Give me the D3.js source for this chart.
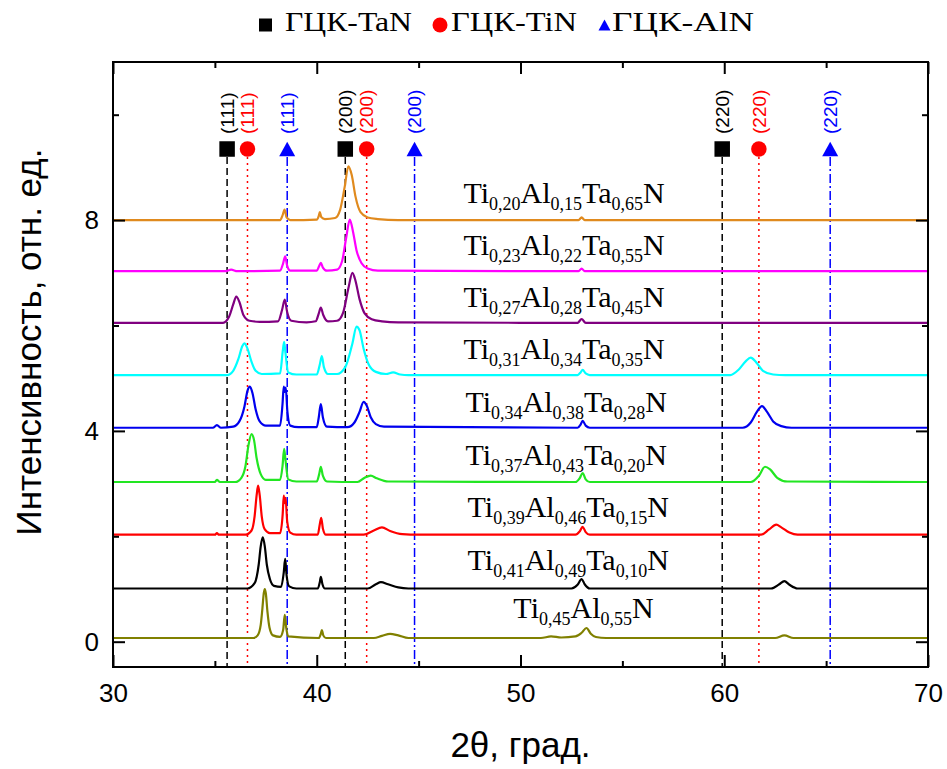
<!DOCTYPE html>
<html>
<head>
<meta charset="utf-8">
<script src="https://cdn.jsdelivr.net/npm/d3@7"></script>
<style>
  body { margin: 0; background: #fff; }
  svg { display: block; }
  .sans { font-family: "Liberation Sans", Arial, sans-serif; }
  .serif { font-family: "Liberation Serif", "Times New Roman", serif; }
</style>
</head>
<body>
<div id="chart"></div>
<script>
// --- data ---
// each scan: [2theta, intensity above its own baseline]
const scanTi45 = [[30,0],[36.9,0],[37.1,0.05],[37.25,0.25],[37.33,0.55],[37.4,0.85],[37.45,0.93],[37.5,0.85],[37.58,0.5],[37.68,0.2],[37.85,0.05],[38.2,0.02],[38.35,0.15],[38.43,0.44],[38.5,0.2],[38.6,0.03],[40.1,0],[40.2,0.08],[40.25,0.15],[40.32,0.05],[40.45,0],[42.8,0],[43.2,0.04],[43.6,0.08],[44.0,0.05],[44.5,0],[51.0,0],[51.5,0.03],[52.0,0.01],[52.7,0.03],[53.0,0.1],[53.24,0.19],[53.45,0.08],[53.7,0.02],[54.2,0],[62.5,0],[62.95,0.05],[63.4,0],[70,0]];
const scanTi41 = [[30,0],[36.6,0],[36.95,0.1],[37.15,0.45],[37.25,0.8],[37.35,0.97],[37.45,0.8],[37.55,0.45],[37.7,0.18],[37.9,0.05],[38.25,0.03],[38.38,0.3],[38.45,0.56],[38.52,0.25],[38.65,0.04],[39.0,0],[40.05,0],[40.15,0.12],[40.2,0.22],[40.28,0.08],[40.4,0],[42.5,0],[42.9,0.08],[43.15,0.12],[43.5,0.08],[44.0,0.02],[44.5,0],[52.5,0],[52.8,0.07],[53.0,0.18],[53.15,0.08],[53.4,0],[62.3,0],[62.7,0.08],[62.95,0.14],[63.2,0.07],[63.6,0],[70,0]];
const scanTi39 = [[30,0],[35.0,0],[35.1,0.03],[35.2,0],[36.5,0],[36.8,0.08],[36.95,0.35],[37.05,0.75],[37.12,0.93],[37.2,0.75],[37.3,0.35],[37.45,0.1],[37.7,0.03],[38.2,0.03],[38.33,0.4],[38.38,0.74],[38.42,0.6],[38.47,0.7],[38.55,0.25],[38.7,0.04],[39.0,0],[40.05,0],[40.15,0.2],[40.22,0.32],[40.3,0.12],[40.45,0],[42.3,0],[42.8,0.08],[43.2,0.14],[43.6,0.07],[44.2,0.01],[45,0],[52.7,0],[52.9,0.06],[53.05,0.15],[53.2,0.05],[53.4,0],[61.8,0],[62.2,0.1],[62.55,0.19],[62.8,0.14],[63.2,0.04],[63.6,0],[70,0]];
const scanTi37 = [[30,0],[35.0,0],[35.1,0.04],[35.25,0],[36.0,0],[36.3,0.08],[36.5,0.3],[36.65,0.7],[36.8,0.91],[36.92,0.8],[37.05,0.45],[37.25,0.15],[37.5,0.04],[38.2,0.04],[38.32,0.3],[38.4,0.63],[38.47,0.4],[38.6,0.05],[39.0,0.01],[40.0,0.01],[40.12,0.15],[40.2,0.29],[40.3,0.12],[40.5,0.01],[42.0,0],[42.35,0.08],[42.65,0.12],[42.95,0.07],[43.5,0.01],[52.7,0],[52.9,0.07],[53.05,0.17],[53.2,0.05],[53.4,0],[61.3,0],[61.7,0.12],[62.0,0.29],[62.25,0.24],[62.6,0.08],[63.1,0.01],[70,0]];
const scanTi34 = [[30,0],[34.9,0],[35.1,0.05],[35.3,0],[35.9,0.02],[36.2,0.12],[36.45,0.4],[36.6,0.7],[36.72,0.78],[36.85,0.65],[37.0,0.35],[37.2,0.12],[37.5,0.04],[38.2,0.04],[38.32,0.45],[38.38,0.78],[38.43,0.68],[38.48,0.76],[38.56,0.3],[38.7,0.04],[39.1,0.01],[40.0,0.01],[40.1,0.2],[40.2,0.45],[40.3,0.2],[40.5,0.02],[41.5,0.01],[41.85,0.1],[42.1,0.3],[42.3,0.49],[42.45,0.42],[42.65,0.2],[42.9,0.07],[43.3,0.02],[52.8,0],[52.95,0.06],[53.05,0.13],[53.2,0.04],[53.4,0],[60.9,0],[61.3,0.1],[61.6,0.3],[61.85,0.41],[62.1,0.3],[62.4,0.12],[62.8,0.03],[63.3,0],[70,0]];
const scanTi31 = [[30,0],[35.6,0],[35.9,0.08],[36.15,0.3],[36.35,0.55],[36.45,0.6],[36.6,0.5],[36.8,0.25],[37.0,0.08],[37.3,0.02],[38.2,0.03],[38.33,0.45],[38.4,0.63],[38.47,0.4],[38.6,0.05],[39.0,0.01],[40.0,0.01],[40.15,0.2],[40.25,0.36],[40.35,0.15],[40.55,0.02],[41.0,0.02],[41.4,0.15],[41.75,0.6],[41.95,0.92],[42.1,0.85],[42.3,0.5],[42.55,0.2],[42.9,0.06],[43.4,0.02],[43.75,0.05],[44.1,0.01],[44.5,0],[52.8,0],[52.95,0.05],[53.05,0.1],[53.2,0.03],[53.4,0],[60.3,0],[60.7,0.1],[61.05,0.26],[61.3,0.33],[61.55,0.25],[61.9,0.08],[62.4,0.01],[63,0],[70,0]];
const scanTi27 = [[30,0],[35.4,0],[35.7,0.12],[35.9,0.35],[36.05,0.5],[36.2,0.4],[36.4,0.15],[36.7,0.04],[37.2,0.02],[38.1,0.03],[38.3,0.25],[38.43,0.44],[38.55,0.2],[38.75,0.04],[39.5,0.01],[39.95,0.03],[40.1,0.18],[40.2,0.29],[40.32,0.15],[40.55,0.03],[41.0,0.04],[41.3,0.2],[41.55,0.65],[41.75,0.95],[41.9,0.8],[42.1,0.45],[42.35,0.18],[42.7,0.07],[43.2,0.03],[44.0,0.01],[52.8,0],[53.0,0.07],[53.2,0],[70,0]];
const scanTi23 = [[30,0],[35.5,0],[35.8,0.03],[36.1,0],[38.2,0.01],[38.35,0.15],[38.45,0.28],[38.55,0.1],[38.7,0.01],[40.0,0.01],[40.12,0.1],[40.2,0.16],[40.3,0.07],[40.5,0.01],[41.0,0.03],[41.25,0.2],[41.45,0.65],[41.62,0.98],[41.78,0.75],[41.95,0.4],[42.2,0.15],[42.5,0.05],[43.0,0.01],[52.85,0],[53.0,0.05],[53.15,0],[70,0]];
const scanTi20 = [[30,0],[38.2,0],[38.33,0.1],[38.42,0.2],[38.52,0.05],[38.7,0],[40.0,0.01],[40.1,0.08],[40.15,0.15],[40.22,0.06],[40.4,0.02],[40.9,0.04],[41.15,0.2],[41.38,0.65],[41.55,1.02],[41.72,0.85],[41.9,0.45],[42.15,0.15],[42.5,0.05],[43.0,0.02],[44.0,0],[52.85,0],[53.0,0.05],[53.15,0],[70,0]];

const scans = [scanTi45, scanTi41, scanTi39, scanTi37, scanTi34, scanTi31, scanTi27, scanTi23, scanTi20];
const offsets = [0.07, 1.01, 2.03, 3.03, 4.06, 5.06, 6.05, 7.03, 8.0];
const scanColors = ["#808000", "#000000", "#ff0000", "#22e622", "#0000ee", "#00ffff", "#800080", "#ff00ff", "#e08a1e"];

// sample formulas: [element, subscript]
const sampleLabels = [
  [["Ti","0,45"],["Al","0,55"],["N",""]],
  [["Ti","0,41"],["Al","0,49"],["Ta","0,10"],["N",""]],
  [["Ti","0,39"],["Al","0,46"],["Ta","0,15"],["N",""]],
  [["Ti","0,37"],["Al","0,43"],["Ta","0,20"],["N",""]],
  [["Ti","0,34"],["Al","0,38"],["Ta","0,28"],["N",""]],
  [["Ti","0,31"],["Al","0,34"],["Ta","0,35"],["N",""]],
  [["Ti","0,27"],["Al","0,28"],["Ta","0,45"],["N",""]],
  [["Ti","0,23"],["Al","0,22"],["Ta","0,55"],["N",""]],
  [["Ti","0,20"],["Al","0,15"],["Ta","0,65"],["N",""]]
];
const labelX = [49.65, 47.4, 47.4, 47.3, 47.3, 47.2, 47.2, 47.2, 47.2];
const labelLift = [0.38, 0.36, 0.34, 0.32, 0.3, 0.3, 0.3, 0.3, 0.32];

// reference peak positions of the fcc phases
const phases = ["ГЦК-TaN", "ГЦК-TiN", "ГЦК-AlN"];
const hkl = ["(111)", "(200)", "(220)"];
const peaksTaN = [35.6, 41.4, 59.9];
const peaksTiN = [36.6, 42.45, 61.7];
const peaksAlN = [38.55, 44.8, 65.2];
const phasePeaks = [peaksTaN, peaksTiN, peaksAlN];
const phaseColors = ["#000000", "#ff0000", "#0000ff"];
const phaseDash = ["7,4", "2,4", "9,3,2,3"];

const xMajor = [30, 40, 50, 60, 70];
const xMinor = [35, 45, 55, 65];
const yMajor = [0, 4, 8];
const yMinor = [2, 6, 10];

// --- setup ---
const width = 947, height = 769;
const margin = { top: 62, right: 19, bottom: 102, left: 113 };

const svg = d3.select("#chart").append("svg")
  .attr("width", width)
  .attr("height", height);

const x = d3.scaleLinear().domain([30, 70]).range([margin.left, width - margin.right]);
const y = d3.scaleLinear().domain([-0.48, 11.0]).range([height - margin.bottom, margin.top]);

svg.append("clipPath").attr("id", "plot-clip")
  .append("rect")
  .attr("x", margin.left).attr("y", margin.top)
  .attr("width", x.range()[1] - x.range()[0])
  .attr("height", y.range()[0] - y.range()[1]);

const plot = svg.append("g").attr("clip-path", "url(#plot-clip)");

// reference lines below the markers
const markerY = 149;
phasePeaks.forEach((list, i) => {
  list.forEach(p => {
    plot.append("line")
      .attr("x1", x(p)).attr("x2", x(p))
      .attr("y1", markerY + 8).attr("y2", y.range()[0])
      .attr("stroke", phaseColors[i])
      .attr("stroke-width", 1.5)
      .attr("stroke-dasharray", phaseDash[i]);
  });
});

// scans, stacked by offset
const line = d3.line()
  .x(d => x(d[0]))
  .y(d => y(d[1] + d[2]))
  .curve(d3.curveMonotoneX);

scans.forEach((scan, i) => {
  plot.append("path")
    .attr("d", line(scan.map(d => [d[0], d[1], offsets[i]])))
    .attr("fill", "none")
    .attr("stroke", scanColors[i])
    .attr("stroke-width", 2.2)
    .attr("stroke-linejoin", "round");
});

function drawSymbol(g, type, cx, cy, size, color) {
  if (type === 0) {
    g.append("rect").attr("x", cx - size / 2).attr("y", cy - size / 2)
      .attr("width", size).attr("height", size).attr("fill", color);
  } else if (type === 1) {
    g.append("circle").attr("cx", cx).attr("cy", cy).attr("r", size / 2).attr("fill", color);
  } else {
    const h = size * 0.92;
    g.append("path")
      .attr("d", `M${cx - size / 2},${cy + h / 2}L${cx + size / 2},${cy + h / 2}L${cx},${cy - h / 2}Z`)
      .attr("fill", color);
  }
}

// markers + hkl labels
const marks = svg.append("g");
phasePeaks.forEach((list, i) => {
  list.forEach((p, j) => {
    drawSymbol(marks, i, x(p), markerY, i === 2 ? 16 : 15.5, phaseColors[i]);
    marks.append("text")
      .attr("class", "sans")
      .attr("transform", `translate(${x(p)},${markerY - 15}) rotate(-90)`)
      .attr("dy", "0.35em")
      .attr("font-size", 19)
      .attr("fill", phaseColors[i])
      .text(hkl[j]);
  });
});

// sample labels with subscripts
sampleLabels.forEach((parts, i) => {
  const t = svg.append("text")
    .attr("class", "serif")
    .attr("x", x(labelX[i]))
    .attr("y", y(offsets[i] + labelLift[i]))
    .attr("font-size", 30)
    .attr("fill", "#000");
  let lowered = false;
  parts.forEach(([el, sub]) => {
    t.append("tspan").attr("dy", lowered ? -7 : 0).text(el);
    lowered = false;
    if (sub) {
      t.append("tspan").attr("font-size", 18).attr("dy", 7).text(sub);
      lowered = true;
    }
  });
});

// axes: ticks inside on all four sides
const axisG = svg.append("g");
function styleAxis(g) {
  g.select(".domain").remove();
  g.selectAll(".tick line").attr("stroke", "#000").attr("stroke-width", 2);
  g.selectAll(".tick text").attr("class", "sans").attr("font-size", 26).attr("fill", "#000");
}
function bare(g) {
  g.selectAll(".tick text").remove();
}
const yBottom = y.range()[0], yTop = y.range()[1];
const xLeft = x.range()[0], xRight = x.range()[1];

axisG.append("g").attr("transform", `translate(0,${yBottom})`)
  .call(d3.axisBottom(x).tickValues(xMajor).tickSize(-12).tickPadding(17).tickFormat(d3.format("d")))
  .call(styleAxis);
axisG.append("g").attr("transform", `translate(0,${yBottom})`)
  .call(d3.axisBottom(x).tickValues(xMinor).tickSize(-6))
  .call(styleAxis).call(bare);
axisG.append("g").attr("transform", `translate(0,${yTop})`)
  .call(d3.axisTop(x).tickValues(xMajor).tickSize(-12))
  .call(styleAxis).call(bare);
axisG.append("g").attr("transform", `translate(0,${yTop})`)
  .call(d3.axisTop(x).tickValues(xMinor).tickSize(-6))
  .call(styleAxis).call(bare);
axisG.append("g").attr("transform", `translate(${xLeft},0)`)
  .call(d3.axisLeft(y).tickValues(yMajor).tickSize(-12).tickPadding(14).tickFormat(d3.format("d")))
  .call(styleAxis);
axisG.append("g").attr("transform", `translate(${xLeft},0)`)
  .call(d3.axisLeft(y).tickValues(yMinor).tickSize(-6))
  .call(styleAxis).call(bare);
axisG.append("g").attr("transform", `translate(${xRight},0)`)
  .call(d3.axisRight(y).tickValues(yMajor).tickSize(-12))
  .call(styleAxis).call(bare);
axisG.append("g").attr("transform", `translate(${xRight},0)`)
  .call(d3.axisRight(y).tickValues(yMinor).tickSize(-6))
  .call(styleAxis).call(bare);

svg.append("rect")
  .attr("x", xLeft).attr("y", yTop)
  .attr("width", xRight - xLeft)
  .attr("height", yBottom - yTop)
  .attr("fill", "none").attr("stroke", "#000").attr("stroke-width", 2);

// axis titles
svg.append("text")
  .attr("class", "sans")
  .attr("x", (xLeft + xRight) / 2)
  .attr("y", 757)
  .attr("text-anchor", "middle")
  .attr("font-size", 35)
  .text("2θ, град.");

svg.append("text")
  .attr("class", "sans")
  .attr("transform", "translate(41,342) rotate(-90)")
  .attr("text-anchor", "middle")
  .attr("font-size", 35)
  .text("Интенсивность, отн. ед.");

// legend (reference text is wider than plain Times, so fit each entry)
const legend = svg.append("g");
const legendSymX = [265.5, 440, 604.5];
const legendTextX = [285, 451, 612];
const legendTextW = [127, 126, 142];
const legendSymSize = [13, 15, 12];
phases.forEach((name, i) => {
  drawSymbol(legend, i, legendSymX[i], 25, legendSymSize[i], phaseColors[i]);
  legend.append("text")
    .attr("class", "serif")
    .attr("x", legendTextX[i])
    .attr("y", 31)
    .attr("font-size", 27)
    .attr("textLength", legendTextW[i])
    .attr("lengthAdjust", "spacingAndGlyphs")
    .text(name);
});
</script>
</body>
</html>
